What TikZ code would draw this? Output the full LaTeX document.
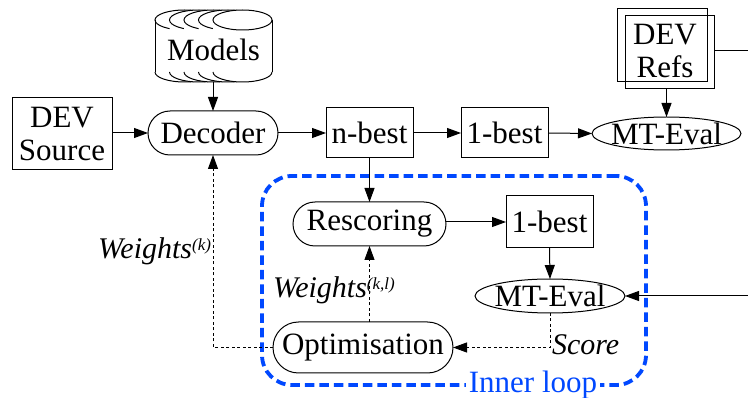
\documentclass[tikz,border=0pt]{standalone}
\usepackage{fontspec}
\setmainfont{Liberation Serif}
\usetikzlibrary{arrows.meta,shapes.geometric}
\definecolor{loopblue}{RGB}{0,72,255}
\newcommand\supsc[1]{\raisebox{8pt}{\fontsize{17}{17}\selectfont #1}}
\begin{document}
\begin{tikzpicture}[x=1pt,y=-1pt,
  font=\fontsize{31}{33}\selectfont,
  every node/.style={inner sep=0pt, outer sep=0pt},
  boxnode/.style={draw, line width=1pt, rectangle, align=center},
  ovalnode/.style={draw, line width=1pt, ellipse},
  pill/.style={draw, line width=1pt, rectangle, rounded corners=#1},
  arr/.style={-{Triangle[length=14pt,width=10pt]}, line width=1pt},
  darr/.style={arr, dash pattern=on 3pt off 2.5pt},
  lbl/.style={font=\fontsize{30}{32}\selectfont\itshape},
  cyl/.style={line width=1pt}
]
\useasboundingbox (0,0) rectangle (748,398);

% Inner loop frame
\node[draw=loopblue, line width=3.8pt, dash pattern=on 9.5pt off 5pt, rounded corners=30pt,
  minimum width=384pt, minimum height=209pt] (innerloop) at (454,280.5) {};
\node[fill=white, text=loopblue, inner xsep=3pt, inner ysep=1pt] (innerlbl) at (533,385) {Inner loop};

% Models stack of cylinders
\foreach \i in {0,...,4} {
  \pgfmathsetmacro\xl{155+14.5*\i}
  \pgfmathsetmacro\xr{\xl+59}
  \pgfmathsetmacro\xc{\xl+29.5}
  \fill[white] (\xl,20) -- (\xl,72) arc[start angle=180, end angle=0, x radius=29.5, y radius=10] -- (\xr,20) -- cycle;
  \draw[cyl] (\xl,72) arc[start angle=180, end angle=0, x radius=29.5, y radius=10];
  \filldraw[cyl, fill=white] (\xc,20) ellipse[x radius=29.5, y radius=10];
}
\draw[cyl] (155,20) -- (155,72);
\draw[cyl] (272,20) -- (272,72);
\node (models) at (213.5,49.5) {Models};
\coordinate (modelsbot) at (213,82);

% Top row
\node[boxnode, minimum width=100pt, minimum height=72pt] (source) at (62,134) {DEV\\Source};
\node[pill=22pt, minimum width=130pt, minimum height=44pt] (decoder) at (213,133) {};
\node (decodertxt) at (decoder) {Decoder};
\node[boxnode, minimum width=87pt, minimum height=50pt] (nbest) at (369.5,133) {n-best};
\node[boxnode, minimum width=87pt, minimum height=50pt] (bestA) at (504.5,133) {1-best};
\node[ovalnode, minimum width=149pt, minimum height=33pt] (meval) at (666.5,133.5) {};
\node (mevaltxt) at (meval) {MT-Eval};

% DEV Refs
\node[boxnode, minimum width=90pt, minimum height=73pt] (refsback) at (662,45.5) {};
\node[boxnode, minimum width=89pt, minimum height=73pt] (refsfront) at (669.5,52.5) {};
\node[align=center] (refs) at (665,51) {DEV\\Refs};

% Inner nodes
\node[pill=22pt, minimum width=153pt, minimum height=44pt] (rescoring) at (369.5,224) {};
\node (rescoringtxt) at (rescoring) {Rescoring};
\node[boxnode, minimum width=87pt, minimum height=52pt] (bestB) at (549.5,222) {1-best};
\node[ovalnode, minimum width=150pt, minimum height=34pt] (mevalin) at (550,296) {};
\node (mevalintxt) at (mevalin) {MT-Eval};
\node[pill=25.5pt, minimum width=180pt, minimum height=51pt] (optim) at (363,347.5) {};
\node (optimtxt) at (optim) {Optimisation};

% Connectors
\draw[arr] (modelsbot) -- (decoder.north);
\draw[arr] (source.east |- decoder.west) -- (decoder.west);
\draw[arr] (decoder.east) -- (nbest.west);
\draw[arr] (nbest.east) -- (bestA.west);
\draw[arr] (bestA.east) -- (meval.west);
\draw[arr] (refsfront.south -| meval.north) -- (meval.north);
\draw[arr] (nbest.south) -- (rescoring.north);
\draw[arr] (rescoring.east |- bestB.west) -- (bestB.west);
\draw[arr] (bestB.south) -- (mevalin.north);

\begin{scope}
  \clip (0,0) rectangle (748,398);
  \coordinate (rt) at (760,200);
  \draw[arr] (refsfront.east |- refs) -| (rt) |- (mevalin.east);
\end{scope}

\draw[darr] (mevalin.south) |- (optim.east);
\draw[darr] (rescoring.south |- optim.north) -- (rescoring.south);
\draw[darr] (optim.west) -| (decoder.south);

% Labels
\node[lbl, anchor=base west] (score) at (552,355) {Score};
\node[lbl, anchor=base east] (wk) at (211,259) {Weights\supsc{(k)}};
\node[lbl, anchor=base west] (wkl) at (273,298) {Weights\supsc{(k,l)}};
\end{tikzpicture}
\end{document}
